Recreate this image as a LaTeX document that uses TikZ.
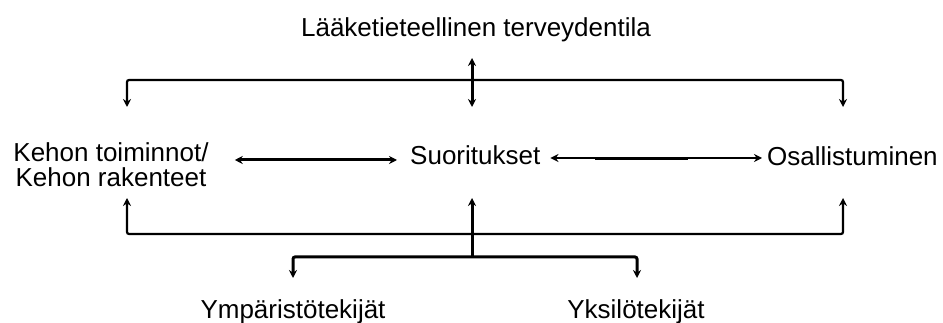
\documentclass[tikz,border=0pt]{standalone}
\usepackage{fontspec}
\setmainfont{Liberation Sans}
\usetikzlibrary{arrows.meta}
\begin{document}
\begin{tikzpicture}[x=1pt,y=-1pt,
  lbl/.style={inner sep=0pt,font=\fontsize{26}{25}\selectfont},
  tip/.tip={Stealth[length=8pt,width=8pt]},
  thinl/.style={line width=1.6pt},
  medl/.style={line width=2.2pt},
  thickl/.style={line width=3pt}]
\useasboundingbox[fill=white] (0,0) rectangle (943,323);
% nodes
\node[lbl,anchor=base] (title) at (476,37) {Lääketieteellinen terveydentila};
\node[lbl,align=center,anchor=base] (kehon) at (111,187) {Kehon toiminnot/\\Kehon rakenteet};
\node[lbl,anchor=base west] (suor) at (410,165) {Suoritukset};
\node[lbl,anchor=base west] (osal) at (767,166) {Osallistuminen};
\node[lbl,anchor=base] (ymp) at (293,318) {Ympäristötekijät};
\node[lbl,anchor=base] (yks) at (636,318) {Yksilötekijät};
% coordinates
\coordinate (ttop) at (472,58);
\coordinate (tbot) at (472,107);
\coordinate (tl) at (127,80);
\coordinate (tr) at (843,80);
\coordinate (tlend) at (127,107);
\coordinate (trend) at (843,107);
\coordinate (bl) at (127,234);
\coordinate (br) at (843,234);
\coordinate (blend) at (127,198);
\coordinate (brend) at (843,198);
\coordinate (bctop) at (472,198);
\coordinate (bcbot) at (472,257);
\coordinate (ll) at (293,257);
\coordinate (lr) at (637,257);
\coordinate (llend) at (293,278);
\coordinate (lrend) at (637,278);
% top connectors
\draw[medl,rounded corners=2pt,{tip}-{tip}] (tlend) -- (tl) -- (tr) -- (trend);
\draw[thickl,{tip}-{tip}] (ttop) -- (tbot);
% middle connectors
\draw[thickl,{tip}-{tip},shorten <=26pt,shorten >=13pt] (kehon.east |- 0,160) -- (suor.west |- 0,160);
\draw[thinl,{tip}-{tip},shorten <=10pt,shorten >=5pt] (suor.east |- 0,158) -- (osal.west |- 0,158);
\draw[line width=3pt] (595,158.6) -- (688,158.6);
% bottom connectors
\draw[medl,rounded corners=2pt,{tip}-{tip}] (blend) -- (bl) -- (br) -- (brend);
\draw[thickl,-{tip}] (bcbot) -- (bctop);
\draw[thickl,rounded corners=2pt,{tip}-{tip}] (llend) -- (ll) -- (lr) -- (lrend);
\end{tikzpicture}
\end{document}
